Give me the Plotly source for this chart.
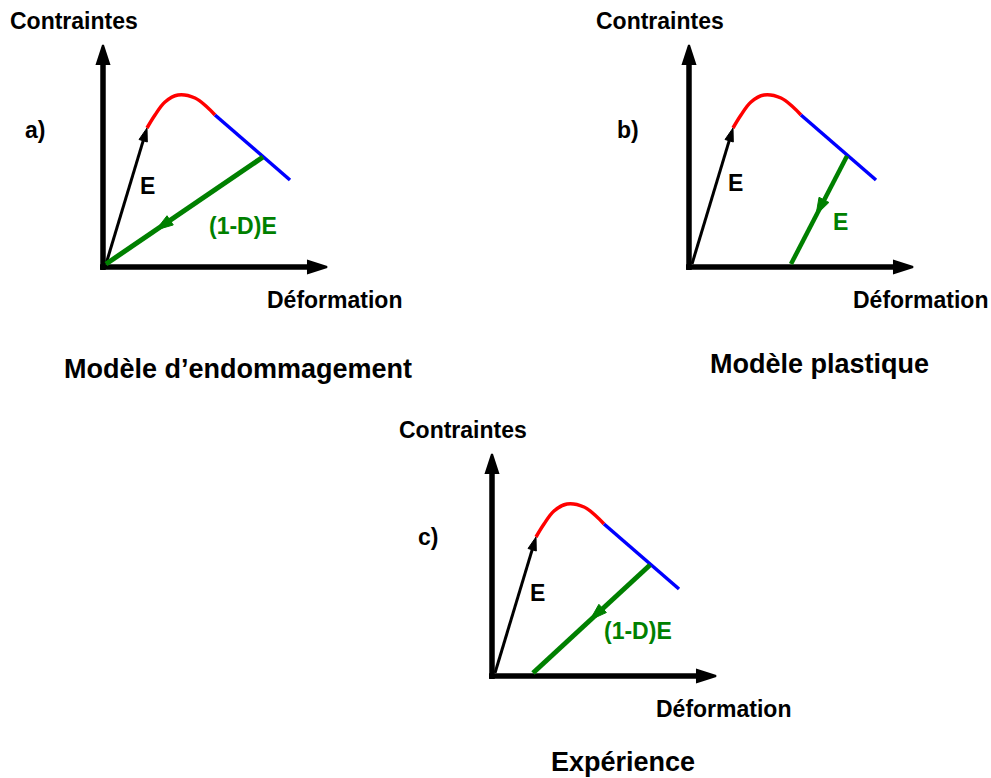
import plotly.graph_objects as go

# ---------------- data (local panel units: strain -> x, stress -> y) -------------
# elastic loading (slope E)
elastic_x = [0, 41]
elastic_y = [0, 136]
# hardening / peak part of the stress-strain curve (red)
peak_x = [41, 49, 59, 72, 89, 101, 109]
peak_y = [136, 149, 162, 169, 166, 157, 149]
# softening branch (blue)
soft_x = [109, 184]
soft_y = [149, 84]
# axes extents
axis_x_end = 221
axis_y_end = 219

# unloading paths per model
unload_a_x = [157, 0]      # damage model: back to origin, slope (1-D)E
unload_a_y = [107, 0]
unload_a_mid = (50, 34)
unload_b_x = [155, 99]     # plastic model: slope E, permanent strain
unload_b_y = [108, 0]
unload_b_mid = (124, 49)
unload_c_x = [155, 38]     # experiment: slope (1-D)E + permanent strain
unload_c_y = [108, 0]
unload_c_mid = (95, 53)

panel_letters = ["a)", "b)", "c)"]
unload_labels = ["(1-D)E", "E", "(1-D)E"]
titles = ["Modèle d’endommagement", "Modèle plastique", "Expérience"]
y_label = "Contraintes"
x_label = "Déformation"

# ---------------- layout helpers ----------------------------------------------
W, H = 991, 778
FONT = "Liberation Sans, Arial, sans-serif"
XR = (-80, 270)
YR = (-45, 255)

panels = [
    dict(origin=(106, 264), unload=(unload_a_x, unload_a_y, unload_a_mid), gw=5,
         letter=(-71, 134), glabel=(137, 38), elabel=(41, 78), title=(238, 369)),
    dict(origin=(692, 264), unload=(unload_b_x, unload_b_y, unload_b_mid), gw=4.5,
         letter=(-64, 134), glabel=(148, 42), elabel=(43, 81), title=(819, 364)),
    dict(origin=(495, 673), unload=(unload_c_x, unload_c_y, unload_c_mid), gw=5,
         letter=(-67, 136), glabel=(143, 42), elabel=(42, 80), title=(623, 762)),
]

fig = go.Figure()
annotations = []
layout_axes = {}

for i, p in enumerate(panels):
    n = "" if i == 0 else str(i + 1)
    xa, ya = "x" + n, "y" + n
    ox, oy = p["origin"]
    xdom = [(ox + XR[0]) / W, (ox + XR[1]) / W]
    ydom = [(H - (oy - YR[0])) / H, (H - (oy - YR[1])) / H]
    layout_axes["xaxis" + n] = dict(domain=xdom, range=list(XR), visible=False, fixedrange=True)
    layout_axes["yaxis" + n] = dict(domain=ydom, range=list(YR), visible=False, fixedrange=True)

    arrow_marker = dict(symbol="arrow", size=[0, 20], angleref="previous", opacity=1,
                        color="black", line=dict(color="black", width=2))
    # axes with arrow heads
    fig.add_trace(go.Scatter(x=[-3, -3], y=[-6, axis_y_end], xaxis=xa, yaxis=ya,
                             mode="lines+markers", line=dict(color="black", width=5.5),
                             marker=arrow_marker, opacity=1,
                             hoverinfo="skip", showlegend=False))
    fig.add_trace(go.Scatter(x=[-6, axis_x_end], y=[-3, -3], xaxis=xa, yaxis=ya,
                             mode="lines+markers", line=dict(color="black", width=5.5),
                             marker=arrow_marker, opacity=1,
                             hoverinfo="skip", showlegend=False))
    # elastic loading E
    fig.add_trace(go.Scatter(x=elastic_x, y=elastic_y, xaxis=xa, yaxis=ya,
                             mode="lines+markers", line=dict(color="black", width=3),
                             marker=dict(symbol="arrow", size=[0, 14], angleref="previous",
                                         color="black", opacity=1,
                                         line=dict(color="black", width=1)),
                             hoverinfo="skip", showlegend=False))
    # peak (red)
    fig.add_trace(go.Scatter(x=peak_x, y=peak_y, xaxis=xa, yaxis=ya, mode="lines",
                             line=dict(color="#ff0000", width=3.5, shape="spline"),
                             hoverinfo="skip", showlegend=False))
    # softening (blue)
    fig.add_trace(go.Scatter(x=soft_x, y=soft_y, xaxis=xa, yaxis=ya, mode="lines",
                             line=dict(color="#0000ff", width=3.5),
                             hoverinfo="skip", showlegend=False))
    # unloading (green)
    ux, uy, mid = p["unload"]
    fig.add_trace(go.Scatter(x=ux, y=uy, xaxis=xa, yaxis=ya, mode="lines",
                             line=dict(color="#008000", width=p["gw"]),
                             hoverinfo="skip", showlegend=False))
    fig.add_trace(go.Scatter(x=[ux[0], mid[0]], y=[uy[0], mid[1]], xaxis=xa, yaxis=ya,
                             mode="markers",
                             marker=dict(symbol="arrow", size=[0, 18], angleref="previous",
                                         color="#008000", opacity=1,
                                         line=dict(color="#008000", width=1)),
                             hoverinfo="skip", showlegend=False))

    def ann(text, x, y, color="black", size=23):
        annotations.append(dict(text="<b>%s</b>" % text, x=x, y=y, xref=xa, yref=ya,
                                showarrow=False, xanchor="center", yanchor="middle",
                                font=dict(family=FONT, size=size, color=color)))

    ann(y_label, -32, 243)
    ann(x_label, 228, -36)
    ann(panel_letters[i], *p["letter"])
    ann("E", *p["elabel"])
    ann(unload_labels[i], *p["glabel"], color="#008000")

    tx, ty = p["title"]
    annotations.append(dict(text="<b>%s</b>" % titles[i], x=tx / W, y=1 - ty / H,
                            xref="paper", yref="paper", showarrow=False,
                            xanchor="center", yanchor="middle",
                            font=dict(family=FONT, size=27, color="black")))

fig.update_layout(width=W, height=H, autosize=False,
                  margin=dict(l=0, r=0, t=0, b=0),
                  paper_bgcolor="white", plot_bgcolor="white",
                  annotations=annotations, **layout_axes)

fig.write_html("out.html", config=dict(displayModeBar=False, staticPlot=True),
               post_script="document.body.style.margin='0';document.body.style.overflow='hidden';")
